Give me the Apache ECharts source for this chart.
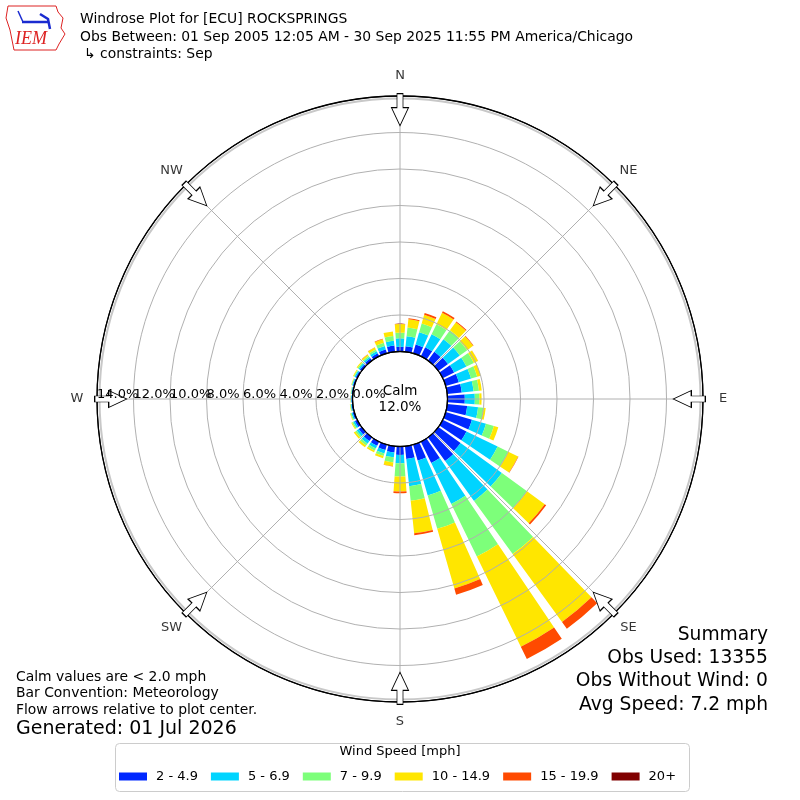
<!DOCTYPE html>
<html>
<head>
<meta charset="utf-8">
<script src="https://cdn.jsdelivr.net/npm/echarts@6/dist/echarts.min.js"></script>
<style>
html,body{margin:0;padding:0;background:#fff;}
#chart{width:800px;height:800px;}
</style>
</head>
<body>
<div id="chart"></div>
<script>
// Direction bins (degrees, meteorological: wind FROM)
const directions = [0,10,20,30,40,50,60,70,80,90,100,110,120,130,140,150,160,170,180,190,200,210,220,230,240,250,260,270,280,290,300,310,320,330,340,350];
// Percent frequency per speed bin
const spd2to5   = [.26,.31,.50,.55,.60,.65,.70,.75,.80,.95,1.10,1.50,1.45,1.50,1.60,1.30,.90,.70,.46,.35,.30,.25,.25,.20,.15,.10,.07,.06,.06,.08,.10,.12,.15,.18,.22,.34];
const spd5to7   = [.46,.55,.70,.80,.85,.80,.75,.70,.65,.55,.60,.80,1.90,2.80,2.70,2.50,2.00,1.50,.46,.26,.20,.17,.17,.13,.10,.07,.04,.03,.03,.05,.07,.09,.10,.13,.20,.26];
const spd7to10  = [.31,.47,.50,.60,.60,.50,.45,.35,.30,.25,.30,.45,.65,1.70,3.60,3.20,1.90,.80,.73,.28,.15,.13,.13,.10,.07,.05,.03,.02,.02,.03,.05,.07,.08,.10,.18,.27];
const spd10to15 = [.47,.46,.50,.70,.55,.40,.25,.20,.15,.12,.12,.25,.60,1.20,4.60,5.50,3.40,1.80,.82,.20,.12,.10,.12,.10,.05,.03,.02,.01,.01,.02,.04,.06,.08,.12,.20,.25];
const spd15to20 = [.02,.05,.10,.10,.05,.03,.01,0,0,0,0,0,.02,.10,.45,.75,.35,.10,.09,.02,0,0,0,0,0,0,0,0,0,0,0,0,.01,.02,.03,0];
const spd20plus = [0,0,0,0,0,0,0,0,0,0,0,0,0,0,0,0,0,0,0,0,0,0,0,0,0,0,0,0,0,0,0,0,0,0,0,0];
const binNames  = ['2 - 4.9','5 - 6.9','7 - 9.9','10 - 14.9','15 - 19.9','20+'];
const binColors = ['#0028ff','#00d4ff','#7dff7a','#ffe600','#ff4a00','#800000'];
const compassNames = ['N','NE','E','SE','S','SW','W','NW'];
const compassBearings = [0,45,90,135,180,225,270,315];
const calmPct = 12.0;

const FONT = 'DejaVu Sans';
const chart = echarts.init(document.getElementById('chart'), null, {renderer:'canvas'});

const allBins = [spd2to5, spd5to7, spd7to10, spd10to15, spd15to20, spd20plus];
const barSeries = allBins.map((arr, i) => ({
  name: binNames[i],
  type: 'bar',
  coordinateSystem: 'polar',
  polarIndex: 0,
  stack: 'total',
  barCategoryGap: '20%',
  data: arr,
  itemStyle: {color: binColors[i]},
  z: 2,
  silent: true
}));

// polar 1: value angle axis starts at West (value 0), clockwise
const bearingToVal = b => (b + 90) % 360;
const arrowPath = 'path://M5.5,0 L11.5,0 L11.5,14 L17,14 L8.5,32 L0,14 L5.5,14 Z';
const arrowSeries = {
  type: 'scatter',
  coordinateSystem: 'polar',
  polarIndex: 1,
  symbol: arrowPath,
  symbolSize: [17, 32],
  z: 6,
  clip: false,
  silent: true,
  itemStyle: {color: '#ffffff', borderColor: '#000', borderWidth: 1, opacity: 1},
  data: compassBearings.map(b => ({value: [13.25, bearingToVal(b)], symbolRotate: -b}))
};
const compassLabelSeries = {
  type: 'scatter',
  coordinateSystem: 'polar',
  polarIndex: 1,
  symbol: 'circle',
  symbolSize: 1,
  z: 6,
  clip: false,
  silent: true,
  itemStyle: {color: 'rgba(255,255,255,0)'},
  label: {show: true, position: 'inside', formatter: p => p.name, fontSize: 13, color: '#000', fontFamily: FONT},
  data: compassBearings.map((b, i) => ({name: compassNames[i], value: [15.1, bearingToVal(b)]}))
};

const option = {
  animation: false,
  textStyle: {fontFamily: FONT},
  polar: [
    {center: [400, 399], radius: [47.5, 303]},
    {center: [400, 399], radius: [47.5, 303]},
    {center: [400, 399], radius: [0, 300.5]},
    {center: [400, 399], radius: [47.5, 303]}
  ],
  angleAxis: [
    {polarIndex: 0, type: 'category', data: directions.map(String), startAngle: 95, clockwise: true,
     boundaryGap: true, axisLine: {show: false}, axisTick: {show: false}, axisLabel: {show: false}, splitLine: {show: false}},
    {polarIndex: 1, type: 'value', min: 0, max: 360, interval: 45, startAngle: 180, clockwise: true, z: 5,
     axisLine: {show: true, lineStyle: {color: '#000', width: 1.3}},
     axisTick: {show: false}, axisLabel: {show: false},
     splitLine: {show: true, lineStyle: {color: '#b0b0b0', width: 1}}},
    {polarIndex: 2, type: 'value', min: 0, max: 360, startAngle: 90, z: 4,
     axisLine: {show: true, lineStyle: {color: '#c8c8c8', width: 2}},
     axisTick: {show: false}, axisLabel: {show: false}, splitLine: {show: false}},
    {polarIndex: 3, type: 'value', min: 0, max: 360, startAngle: 180, clockwise: true,
     axisLine: {show: false}, axisTick: {show: false}, axisLabel: {show: false}, splitLine: {show: false}}
  ],
  radiusAxis: [
    {polarIndex: 0, type: 'value', min: 0, max: 14, axisLine: {show: false}, axisTick: {show: false}, axisLabel: {show: false}, splitLine: {show: false}},
    {polarIndex: 1, type: 'value', min: 0, max: 14, interval: 2, z: 5,
     axisLine: {show: false}, axisTick: {show: false},
     axisLabel: {show: true, showMinLabel: true, showMaxLabel: false, margin: 2, fontSize: 13, color: '#000', fontFamily: FONT,
       align: 'left', verticalAlign: 'bottom', formatter: v => v.toFixed(1) + '%'},
     splitLine: {show: true, lineStyle: {color: ['#000','#b0b0b0','#b0b0b0','#b0b0b0','#b0b0b0','#b0b0b0','#b0b0b0','#000'], width: 1}}},
    {polarIndex: 2, type: 'value', min: 0, max: 1, axisLine: {show: false}, axisTick: {show: false}, axisLabel: {show: false}, splitLine: {show: false}},
    {polarIndex: 3, type: 'value', min: 0, max: 14, interval: 14, z: 8,
     axisLine: {show: false}, axisTick: {show: false}, splitLine: {show: false},
     axisLabel: {show: true, showMinLabel: false, showMaxLabel: true, margin: 2, fontSize: 13, color: '#000', fontFamily: FONT,
       align: 'left', verticalAlign: 'bottom', formatter: v => v.toFixed(1) + '%'}}
  ],
  legend: {
    data: binNames,
    left: 119, top: 770, padding: 0,
    itemWidth: 28, itemHeight: 8, itemGap: 13,
    icon: 'rect',
    selectedMode: false,
    textStyle: {fontSize: 13, color: '#000', fontFamily: FONT, padding: [0, 0, 0, 4]}
  },
  series: barSeries.concat([arrowSeries, compassLabelSeries]),
  graphic: [
    // legend frame and title
    {type: 'rect', left: 113, top: 741, shape: {width: 574, height: 48, r: 4}, style: {fill: 'none', stroke: '#cccccc', lineWidth: 1}, z: -1, silent: true},
    {type: 'text', x: 400, y: 752, style: {text: 'Wind Speed [mph]', fontSize: 13, fontFamily: FONT, fill: '#000', textAlign: 'center', textVerticalAlign: 'middle'}},
    // calm label
    {type: 'text', x: 400, y: 399, z: 20, style: {text: 'Calm\n' + calmPct.toFixed(1) + '%', fontSize: 13.5, lineHeight: 16, fontFamily: FONT, fill: '#000', textAlign: 'center', textVerticalAlign: 'middle'}},
    // header
    {type: 'text', x: 80, y: 19, style: {text: 'Windrose Plot for [ECU] ROCKSPRINGS', fontSize: 13.9, fontFamily: FONT, fill: '#000', textVerticalAlign: 'middle'}},
    {type: 'text', x: 80, y: 37, style: {text: 'Obs Between: 01 Sep 2005 12:05 AM - 30 Sep 2025 11:55 PM America/Chicago', fontSize: 13.9, fontFamily: FONT, fill: '#000', textVerticalAlign: 'middle'}},
    {type: 'text', x: 84, y: 54, style: {text: '\u21b3 constraints: Sep', fontSize: 13.9, fontFamily: FONT, fill: '#000', textVerticalAlign: 'middle'}},
    // IEM logo (simplified)
    {type: 'polyline', shape: {points: [[8,6],[56,6],[58,12],[63,18],[61,28],[65,34],[59,44],[56,50],[14,50],[12,40],[10,30],[6,18],[8,6]]}, style: {stroke: '#d22', fill: 'none', lineWidth: 1}},
    {type: 'polyline', shape: {points: [[22,22],[48,22]]}, style: {stroke: '#1a2bd0', lineWidth: 2.5}},
    {type: 'polyline', shape: {points: [[18,11],[23,22]]}, style: {stroke: '#1a2bd0', lineWidth: 1.5}},
    {type: 'polyline', shape: {points: [[40,14],[48,19],[50,29]]}, style: {stroke: '#1a2bd0', lineWidth: 2.5}},
    {type: 'text', x: 15, y: 39, style: {text: 'IEM', fontSize: 18, fontStyle: 'italic', fontFamily: 'Liberation Serif', fill: '#d22', textVerticalAlign: 'middle'}},
    // bottom-left notes
    {type: 'text', x: 16, y: 677, style: {text: 'Calm values are < 2.0 mph', fontSize: 13.9, fontFamily: FONT, fill: '#000', textVerticalAlign: 'middle'}},
    {type: 'text', x: 16, y: 693, style: {text: 'Bar Convention: Meteorology', fontSize: 13.9, fontFamily: FONT, fill: '#000', textVerticalAlign: 'middle'}},
    {type: 'text', x: 16, y: 710, style: {text: 'Flow arrows relative to plot center.', fontSize: 13.9, fontFamily: FONT, fill: '#000', textVerticalAlign: 'middle'}},
    {type: 'text', x: 16, y: 729, style: {text: 'Generated: 01 Jul 2026', fontSize: 19, fontFamily: FONT, fill: '#000', textVerticalAlign: 'middle'}},
    // summary
    {type: 'text', x: 768, y: 635, style: {text: 'Summary', fontSize: 18.7, fontFamily: FONT, fill: '#000', textAlign: 'right', textVerticalAlign: 'middle'}},
    {type: 'text', x: 768, y: 658, style: {text: 'Obs Used: 13355', fontSize: 18.7, fontFamily: FONT, fill: '#000', textAlign: 'right', textVerticalAlign: 'middle'}},
    {type: 'text', x: 768, y: 681, style: {text: 'Obs Without Wind: 0', fontSize: 18.7, fontFamily: FONT, fill: '#000', textAlign: 'right', textVerticalAlign: 'middle'}},
    {type: 'text', x: 768, y: 705, style: {text: 'Avg Speed: 7.2 mph', fontSize: 18.7, fontFamily: FONT, fill: '#000', textAlign: 'right', textVerticalAlign: 'middle'}}
  ]
};
chart.setOption(option);
</script>
</body>
</html>
